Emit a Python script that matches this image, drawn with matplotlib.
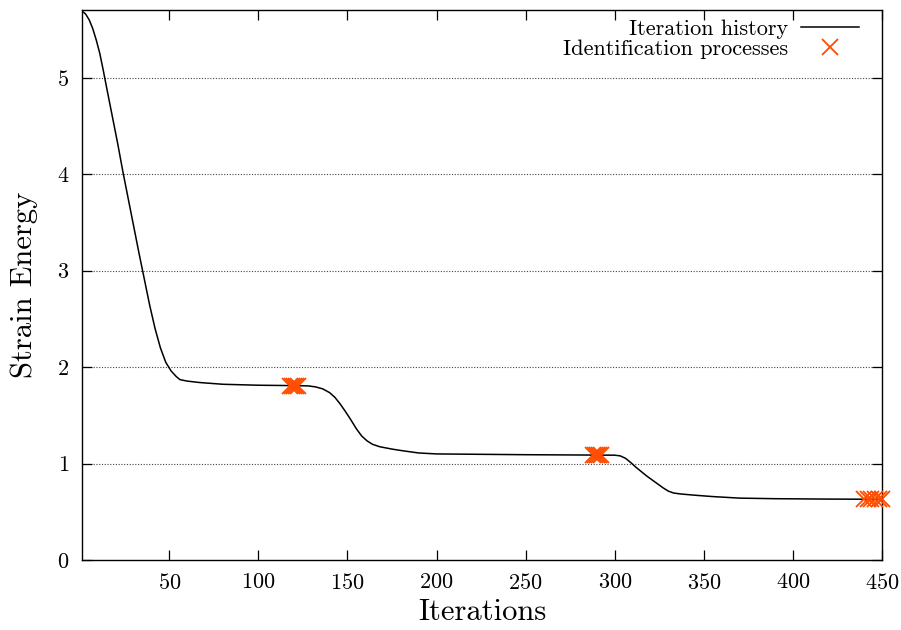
import matplotlib

matplotlib.use("Agg")
import matplotlib.pyplot as plt

# strain energy over the optimisation run
iterations = [1, 3, 5, 7, 9, 11, 13, 15, 18, 21, 24, 27, 30, 33, 36, 39, 42, 45, 48,
              51, 54, 56, 60, 67, 80, 100, 120, 128, 132, 136, 140, 143, 146, 149,
              152, 155, 158, 161, 164, 168, 175, 182, 190, 200, 250, 300, 303, 306,
              309, 312, 315, 318, 321, 324, 327, 330, 333, 337, 345, 355, 370, 390,
              420, 450]
energy = [5.69, 5.66, 5.60, 5.51, 5.39, 5.25, 5.07, 4.88, 4.60, 4.32, 4.02, 3.74,
          3.46, 3.18, 2.91, 2.64, 2.40, 2.20, 2.05, 1.96, 1.90, 1.87, 1.855, 1.84,
          1.822, 1.812, 1.808, 1.805, 1.795, 1.775, 1.735, 1.685, 1.615, 1.535,
          1.45, 1.36, 1.285, 1.235, 1.20, 1.175, 1.15, 1.13, 1.11, 1.10, 1.092,
          1.087, 1.08, 1.055, 1.01, 0.96, 0.915, 0.87, 0.83, 0.79, 0.75, 0.715,
          0.695, 0.685, 0.672, 0.658, 0.642, 0.636, 0.632, 0.63]

# iterations at which identification was run
ident_iters = [118, 119, 120, 121, 122,
               288, 289, 290, 291, 292,
               440, 442, 444, 446, 448, 450]
ident_energy = [1.808] * 5 + [1.087] * 5 + [0.63] * 6

xticks = [50, 100, 150, 200, 250, 300, 350, 400, 450]
yticks = [0, 1, 2, 3, 4, 5]

plt.rcParams["font.family"] = ["cmr10", "DejaVu Serif"]
plt.rcParams["mathtext.fontset"] = "cm"
plt.rcParams["axes.formatter.use_mathtext"] = True

fig = plt.figure(figsize=(9.01, 6.30), dpi=100)
ax = fig.add_axes([0.091, 0.111, 0.888, 0.873])

ax.plot(iterations, energy, color="black", lw=1.1, label="Iteration history", zorder=3)
ax.plot(ident_iters, ident_energy, ls="none", marker="x", ms=11, mew=1.3,
        color="#ff4c00", label="Identification processes", clip_on=False, zorder=4)

ax.set_xlim(1, 450)
ax.set_ylim(0, 5.7)
ax.set_xticks(xticks)
ax.set_yticks(yticks)

for y in yticks[1:]:
    ax.axhline(y, color="#444444", lw=0.8, ls=(0, (1, 1.5)), zorder=1)

ax.tick_params(direction="in", top=True, right=True, length=7, width=0.9,
               labelsize=16, pad=9)
for s in ax.spines.values():
    s.set_linewidth(1.0)

ax.set_xlabel("Iterations", fontsize=22, labelpad=4)
ax.set_ylabel("Strain Energy", fontsize=22, labelpad=14)

ax.legend(loc="upper right", frameon=False, markerfirst=False, fontsize=16,
          handlelength=2.6, handletextpad=0.6, labelspacing=0.05, numpoints=1,
          borderaxespad=0.2, bbox_to_anchor=(0.988, 1.008))

fig.savefig("out.png", dpi=100)
